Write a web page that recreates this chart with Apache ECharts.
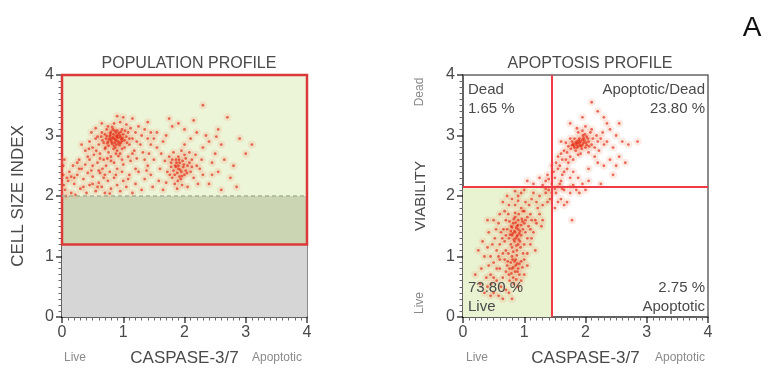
<!DOCTYPE html>
<html>
<head>
<meta charset="utf-8">
<script src="https://cdn.jsdelivr.net/npm/echarts@6/dist/echarts.min.js"></script>
<style>
  html, body { margin: 0; padding: 0; background: #fff; }
  #chart { width: 770px; height: 372px; }
</style>
</head>
<body>
<div id="chart"></div>
<script>
// ---- data ----
const axisTicks = [0, 1, 2, 3, 4];

// Population profile: CASPASE-3/7 vs cell size index
const populationEvents = [
  [0.85,2.95],[0.9,2.98],[0.8,2.92],[0.95,3.0],[0.88,3.05],[0.78,2.98],[0.92,2.9],[0.84,3.02],[0.97,2.94],[0.75,2.9],
  [0.82,2.86],[0.9,3.08],[1.0,3.02],[0.86,2.88],[0.72,2.95],[0.94,2.84],[0.8,3.06],[1.02,2.92],[0.87,2.8],[0.76,2.83],
  [0.98,3.1],[0.83,3.1],[0.91,2.96],[0.89,2.91],[0.79,3.01],[1.05,2.98],[0.7,3.02],[0.93,3.04],[0.85,2.83],[0.96,2.88],
  [0.81,2.95],[0.88,2.99],[1.08,3.05],[0.74,2.87],[0.99,2.96],
  [0.83,2.97],[0.87,2.93],[0.91,3.01],[0.77,2.94],[0.95,2.97],[0.86,3.08],[0.81,2.89],[0.93,2.87],[0.79,3.04],[0.89,2.85],
  [1.03,3.08],[0.73,2.99],[0.98,2.91],[0.84,2.78],[0.9,2.75],[0.68,2.88],[1.06,2.88],[0.96,3.06],[0.82,3.14],[0.71,2.8],
  [1.1,2.95],[0.64,2.98],[0.92,2.66],[0.8,2.58],[0.74,2.62],[1.0,2.52],[0.66,2.45],[0.56,2.75],[1.15,2.7],[1.2,2.45],
  [0.6,2.85],[0.55,2.95],[0.65,3.05],[0.5,2.8],[0.62,2.7],[0.45,2.9],[0.68,2.6],[0.58,2.55],[0.72,2.5],[0.8,2.65],
  [0.85,2.55],[0.95,2.7],[1.1,2.85],[1.15,2.95],[1.2,3.05],[1.12,3.12],[1.05,3.18],[0.95,3.22],[0.85,3.2],[0.75,3.15],
  [0.65,3.2],[1.25,3.15],[1.3,3.0],[1.35,3.1],[1.28,2.85],[1.4,2.95],[1.18,2.75],[1.08,2.65],[0.98,2.6],[0.9,2.45],
  [0.78,2.4],[0.7,2.35],[0.6,2.42],[0.5,2.5],[0.42,2.65],[0.38,2.75],[0.48,3.05],[0.55,3.12],[0.32,2.85],[0.28,2.6],
  [1.0,3.3],[0.9,3.32],[1.15,3.28],[1.4,3.22],[1.45,3.05],[0.7,2.78],[0.66,2.92],[1.02,2.8],[1.12,2.58],[1.22,2.62],
  [0.52,2.68],[0.73,3.1],[1.22,2.9],[0.58,2.98],[0.98,2.78],[1.32,2.72],[0.44,2.78],[0.88,2.7],[0.62,2.62],[0.76,2.72],
  [0.05,2.1],[0.1,2.25],[0.15,2.05],[0.2,2.2],[0.25,2.35],[0.3,2.12],[0.35,2.28],[0.4,2.05],[0.45,2.18],[0.5,2.32],
  [0.55,2.08],[0.6,2.22],[0.65,2.15],[0.7,2.05],[0.75,2.25],[0.8,2.12],[0.85,2.3],[0.9,2.18],[0.95,2.08],[1.0,2.25],
  [1.05,2.15],[1.1,2.35],[1.15,2.05],[1.2,2.2],[1.25,2.4],[0.12,2.4],[0.22,2.02],[0.32,2.45],[0.42,2.38],[0.08,2.3],
  [0.18,2.5],[0.28,2.45],[0.38,2.52],[0.48,2.42],[0.03,2.18],[0.15,2.32],[0.68,2.3],[0.58,2.15],[0.78,2.04],[0.98,2.4],
  [1.3,2.1],[1.35,2.28],[0.02,2.5],[0.04,2.6],[0.06,2.0],[0.02,2.35],
  [0.2,2.3],[0.35,2.15],[0.5,2.2],[0.62,2.38],[0.88,2.35],[1.08,2.28],[0.25,2.55],[0.45,2.6],
  [1.4,2.5],[1.45,2.35],[1.5,2.6],[1.55,2.8],[1.6,2.45],[1.48,2.15],[1.58,2.25],[1.65,2.9],[1.5,2.95],[1.42,2.7],
  [1.38,2.42],[1.62,2.7],[1.7,3.0],[1.55,3.05],[1.45,2.85],[1.35,2.6],
  [1.9,2.45],[1.85,2.5],[1.95,2.4],[1.88,2.38],[1.92,2.55],[1.82,2.42],[1.98,2.48],[1.86,2.6],[2.0,2.35],[1.8,2.3],
  [1.94,2.28],[2.05,2.5],[1.78,2.55],[1.9,2.65],[2.02,2.62],[1.84,2.2],[1.96,2.18],[2.1,2.4],[2.12,2.6],[1.72,2.4],
  [1.75,2.65],[2.08,2.72],[1.95,2.75],[1.82,2.72],[2.15,2.3],[2.2,2.5],[1.7,2.22],[2.05,2.15],[1.88,2.12],[2.18,2.68],
  [2.25,2.45],[1.68,2.58],[2.0,2.85],[2.22,2.2],[1.92,2.32],[1.86,2.48],[2.02,2.42],[1.78,2.48],[1.97,2.58],[2.3,2.35],
  [2.28,2.6],[1.65,2.1],
  [1.9,2.5],[1.93,2.43],[1.87,2.55],[1.99,2.52],[1.84,2.35],[1.91,2.6],[2.04,2.38],[1.8,2.6],[1.96,2.33],[2.08,2.55],
  [1.76,2.35],[2.12,2.48],[1.89,2.25],[2.0,2.68],
  [2.3,2.8],[2.4,2.9],[2.35,3.0],[2.45,2.55],[2.5,2.7],[2.55,2.4],[2.4,2.2],[2.6,2.85],[2.2,3.05],[2.1,2.95],
  [2.65,2.6],[2.7,3.3],[2.8,2.5],[2.75,2.3],[2.9,2.95],[3.0,2.7],[2.3,3.5],[1.9,3.2],[2.0,3.1],[1.8,3.15],
  [2.55,3.1],[2.6,2.1],[2.85,2.15],[2.45,2.35],[3.1,2.85],[2.15,3.25],[1.75,3.28],[2.52,2.98]
];

// Apoptosis profile: CASPASE-3/7 vs viability
const apoptosisEvents = [
  [0.85,1.4],[0.9,1.45],[0.8,1.35],[0.88,1.5],[0.82,1.55],[0.92,1.38],[0.78,1.42],[0.95,1.52],[0.86,1.3],[0.9,1.6],
  [0.75,1.3],[0.84,1.25],[0.98,1.45],[0.8,1.48],[0.93,1.25],[0.87,1.18],[0.72,1.45],[0.96,1.62],[0.83,1.62],[0.89,1.35],
  [0.78,1.2],[1.0,1.55],[0.91,1.7],[0.85,1.72],[0.76,1.58],[0.94,1.15],[0.7,1.35],[1.02,1.4],[0.88,1.1],[0.82,1.08],
  [0.84,1.42],[0.87,1.47],[0.81,1.38],[0.9,1.52],[0.86,1.56],[0.93,1.42],[0.79,1.5],[0.88,1.33],[0.95,1.35],[0.83,1.28],
  [0.91,1.28],[0.77,1.36],[0.85,1.65],[0.97,1.58],[0.8,1.15],[0.9,1.2],[1.02,1.6],[1.07,1.5],[0.7,1.1],[0.64,1.3],
  [1.12,1.6],[0.98,1.75],
  [0.8,0.8],[0.85,0.75],[0.78,0.9],[0.88,0.88],[0.75,0.7],[0.9,0.8],[0.82,0.65],[0.72,0.85],[0.86,0.95],[0.7,0.75],
  [0.92,0.7],[0.8,1.0],[0.76,0.6],[0.95,0.92],[0.68,0.95],[0.88,1.02],[0.74,1.05],[0.83,0.55],[0.65,0.65],[0.97,0.82],
  [0.82,0.82],[0.86,0.85],[0.79,0.72],[0.84,0.92],[0.89,0.75],[0.76,0.8],[0.81,0.95],[0.92,0.88],[0.73,0.92],[0.87,0.62],
  [0.4,0.5],[0.45,0.7],[0.5,0.4],[0.55,0.6],[0.6,0.8],[0.5,0.9],[0.45,1.0],[0.55,1.1],[0.6,1.2],[0.62,0.5],
  [0.58,0.35],[0.65,1.05],[0.68,1.25],[0.62,1.4],[0.58,1.55],[0.52,1.3],[0.48,1.2],[0.42,0.85],[0.38,0.65],[0.35,1.0],
  [0.4,1.15],[0.3,0.8],[0.7,1.6],[0.68,1.75],[0.75,1.85],[0.8,1.95],[0.85,1.85],[0.9,1.92],[0.95,1.8],[1.0,1.75],
  [1.05,1.65],[1.1,1.7],[1.08,1.85],[1.12,1.95],[1.15,2.05],[1.2,1.9],[1.25,2.0],[1.18,1.6],[1.1,1.45],[1.05,1.3],
  [1.0,1.2],[1.05,1.05],[1.0,0.95],[1.1,1.2],[1.15,1.4],[1.2,1.55],[1.25,1.7],[1.3,1.85],[1.35,2.05],[1.3,1.6],
  [1.38,1.9],[0.95,2.05],[1.0,2.1],[0.9,2.0],[0.65,0.3],[0.7,0.45],[0.75,0.4],[0.8,0.3],[0.9,0.5],[0.95,0.6],
  [1.0,0.7],[1.05,0.85],[0.55,0.8],[0.6,0.95],[0.5,0.65],[0.35,0.4],[0.28,0.55],[0.25,1.1],[0.32,1.25],[0.42,1.4],
  [0.5,1.6],[0.6,1.7],[0.65,1.9],[0.72,2.0],[1.12,1.3],[1.22,1.8],[0.98,1.05],[0.66,1.45],[0.74,1.7],[1.02,1.9],
  [0.58,1.0],[0.46,0.55],[0.54,1.45],[1.28,1.5],[1.18,1.1],[0.2,0.7],[0.4,1.6],[0.45,0.35],[0.85,2.08],
  [1.4,2.1],[1.45,2.2],[1.5,2.3],[1.55,2.15],[1.6,2.25],[1.48,2.4],[1.52,2.05],[1.58,2.5],[1.62,2.35],[1.65,2.1],
  [1.7,2.45],[1.68,2.6],[1.75,2.3],[1.72,2.55],[1.8,2.4],[1.55,2.65],[1.42,1.95],[1.35,2.25],[1.38,2.35],[1.3,2.18],
  [1.25,2.3],[1.6,1.95],[1.65,1.85],[1.75,2.05],[1.85,2.1],[1.9,2.05],[1.95,2.2],[2.0,2.1],[1.8,2.18],[1.7,1.9],
  [1.5,1.8],[1.78,1.6],[1.55,1.9],[1.45,2.5],[1.6,2.7],[1.15,2.2],[1.05,2.25],[1.62,2.12],[2.05,2.25],[1.88,2.3],
  [1.45,2.05],[1.5,2.12],[1.58,2.2],[1.4,2.28],[1.65,2.4],[1.52,2.55],[1.35,2.12],[1.75,2.15],
  [1.85,2.85],[1.9,2.88],[1.95,2.85],[1.88,2.82],[1.92,2.9],[1.8,2.86],[1.98,2.92],[1.86,2.9],[2.0,2.8],[1.82,2.8],
  [1.94,2.78],[2.05,2.9],[1.78,2.9],[1.9,2.95],[2.02,2.98],[1.84,2.75],[1.96,3.0],[2.1,2.85],[2.12,2.95],[1.72,2.82],
  [1.75,2.95],[2.08,3.05],[1.95,3.08],[1.88,3.05],[2.15,2.8],[2.2,2.9],[1.7,2.72],[2.05,2.72],[1.88,2.68],[2.18,3.0],
  [2.25,2.95],[1.68,2.88],[2.0,3.15],[2.22,2.75],[1.92,2.7],[1.82,2.95],[2.02,2.84],[1.76,2.78],[1.97,2.96],[1.86,3.12],
  [2.1,3.1],[1.8,2.6],[2.3,2.85],[2.28,3.05],[1.65,2.75],[1.6,2.9],[1.62,2.6],[1.75,2.65],[2.15,2.65],[2.35,2.9],
  [1.87,2.87],[1.91,2.84],[1.84,2.88],[1.97,2.88],[1.93,2.82],[1.89,2.92],[2.01,2.88],[1.81,2.83],[2.06,2.82],[1.95,2.93],
  [1.78,2.84],[2.04,2.95],[1.86,2.8],[1.99,3.02],
  [2.4,3.1],[2.5,3.0],[2.45,2.8],[2.55,2.65],[2.6,2.9],[2.7,2.85],[2.35,3.2],[2.3,3.3],[2.2,3.4],[2.1,3.55],
  [2.5,2.5],[2.65,2.55],[2.4,2.6],[2.3,2.5],[1.55,2.45],[1.75,3.2],[1.95,3.3],[2.55,3.2],[2.05,2.45],[2.2,2.55],
  [2.85,2.9],[2.45,2.35],[2.25,2.2]
];

// Gates
const sizeGateLow = 1.2;      // lower edge of the cell size gate
const sizeDebrisCut = 2.0;    // dashed debris threshold
const caspaseCut = 1.45;      // vertical quadrant divider
const viabilityCut = 2.15;    // horizontal quadrant divider

// Quadrant percentages
const quadrants = {
  dead: ['Dead', '1.65 %'],
  apoDead: ['Apoptotic/Dead', '23.80 %'],
  live: ['73.80 %', 'Live'],
  apo: ['2.75 %', 'Apoptotic']
};

// ---- chart ----
const FONT = '"Liberation Sans", Arial, sans-serif';
const TXT = '#4a4a4a';
const chart = echarts.init(document.getElementById('chart'));

// tick marks: named colours, dark grey major and mid grey minor
function tickStyle() { return { show: true, length: 6, lineStyle: { color: 'black', opacity: 0.75, width: 1.5 } }; }
function minorStyle() { return { show: true, splitNumber: 10, length: 3.5, lineStyle: { color: 'dimgray', width: 1 } }; }

function makeX(gridIndex) {
  return {
    gridIndex, type: 'value', min: 0, max: 4, interval: 1,
    name: 'CASPASE-3/7', nameLocation: 'middle', nameGap: 33,
    nameTextStyle: { fontFamily: FONT, fontSize: 17, color: TXT },
    axisLine: { show: true, lineStyle: { color: '#555', width: 1.5 } },
    axisTick: tickStyle(),
    minorTick: minorStyle(),
    splitLine: { show: false },
    axisLabel: { fontFamily: FONT, fontSize: 16, color: TXT }
  };
}
function makeY(gridIndex, name, nameSize) {
  return {
    gridIndex, type: 'value', min: 0, max: 4, interval: 1,
    name, nameLocation: 'middle', nameGap: 35,
    nameTextStyle: { fontFamily: FONT, fontSize: nameSize, color: TXT },
    axisLine: { show: true, lineStyle: { color: '#555', width: 1.5 } },
    axisTick: tickStyle(),
    minorTick: minorStyle(),
    splitLine: { show: false },
    axisLabel: { fontFamily: FONT, fontSize: 16, color: TXT }
  };
}

const haloStyle = { color: 'rgba(244,150,110,0.22)' };
const coreStyle = { color: 'rgba(225,35,15,0.8)' };

function quadText(x, y, lines, align) {
  return {
    type: 'text', x, y,
    style: { text: lines.join('\n'), font: '15px ' + FONT, fill: TXT, textAlign: align, lineHeight: 19 },
    z: 10
  };
}
function smallText(x, y, text, rotate) {
  return {
    type: 'text', x, y, rotation: rotate ? Math.PI / 2 : 0,
    style: { text, font: '12px ' + FONT, fill: '#8a8a8a', textAlign: 'center', textVerticalAlign: 'middle' },
    z: 10
  };
}

chart.setOption({
  animation: false,
  title: [
    { text: 'POPULATION PROFILE', left: 184, top: 51, textAlign: 'center',
      textStyle: { fontFamily: FONT, fontSize: 16, fontWeight: 'normal', color: TXT } },
    { text: 'APOPTOSIS PROFILE', left: 585, top: 51, textAlign: 'center',
      textStyle: { fontFamily: FONT, fontSize: 16, fontWeight: 'normal', color: TXT } }
  ],
  grid: [
    { left: 62, top: 75, width: 245, height: 242, show: true, borderColor: '#666', borderWidth: 1.5 },
    { left: 463, top: 75, width: 245, height: 242, show: true, borderColor: '#666', borderWidth: 1.5 }
  ],
  xAxis: [makeX(0), makeX(1)],
  yAxis: [makeY(0, 'CELL SIZE INDEX', 17), makeY(1, 'VIABILITY', 15)],
  series: [
    {
      name: 'population-halo', type: 'scatter', xAxisIndex: 0, yAxisIndex: 0,
      data: populationEvents, symbolSize: 8, itemStyle: haloStyle, silent: true,
      markArea: {
        silent: true,
        data: [
          [{ coord: [0, 0], itemStyle: { color: '#d6d6d6' } }, { coord: [4, sizeGateLow] }],
          [{ coord: [0, sizeGateLow], itemStyle: { color: '#cbd5b4' } }, { coord: [4, sizeDebrisCut] }],
          [{ coord: [0, sizeDebrisCut], itemStyle: { color: '#edf5d9' } }, { coord: [4, 4] }]
        ]
      },
      markLine: {
        silent: true, symbol: 'none', label: { show: false },
        lineStyle: { color: '#a8b295', type: [4, 3], width: 1.5 },
        data: [{ yAxis: sizeDebrisCut }]
      }
    },
    {
      name: 'population', type: 'scatter', xAxisIndex: 0, yAxisIndex: 0,
      data: populationEvents, symbolSize: 2.8, itemStyle: coreStyle, silent: true,
      markArea: {
        silent: true,
        data: [
          [{ coord: [0, sizeGateLow], itemStyle: { color: 'rgba(0,0,0,0)', borderColor: '#dc3a3a', borderWidth: 2.5 } }, { coord: [4, 4] }]
        ]
      }
    },
    {
      name: 'apoptosis-halo', type: 'scatter', xAxisIndex: 1, yAxisIndex: 1,
      data: apoptosisEvents, symbolSize: 8, itemStyle: haloStyle, silent: true,
      markArea: {
        silent: true,
        data: [
          [{ coord: [0, 0], itemStyle: { color: '#e9f3d2' } }, { coord: [caspaseCut, viabilityCut] }]
        ]
      }
    },
    {
      name: 'apoptosis', type: 'scatter', xAxisIndex: 1, yAxisIndex: 1,
      data: apoptosisEvents, symbolSize: 2.8, itemStyle: coreStyle, silent: true,
      markLine: {
        silent: true, symbol: 'none', label: { show: false },
        lineStyle: { color: '#ee3b45', type: 'solid', width: 2 },
        data: [{ xAxis: caspaseCut }, { yAxis: viabilityCut }]
      }
    }
  ],
  graphic: [
    quadText(468, 80, quadrants.dead, 'left'),
    quadText(705, 80, quadrants.apoDead, 'right'),
    quadText(468, 278, quadrants.live, 'left'),
    quadText(705, 278, quadrants.apo, 'right'),
    smallText(75, 358, 'Live'),
    smallText(277, 358, 'Apoptotic'),
    smallText(477, 358, 'Live'),
    smallText(680, 358, 'Apoptotic'),
    smallText(420, 92, 'Dead', true),
    smallText(420, 303, 'Live', true),
    { type: 'text', x: 752, y: 28,
      style: { text: 'A', font: '28px ' + FONT, fill: '#111', textAlign: 'center', textVerticalAlign: 'middle' } }
  ]
});
</script>
</body>
</html>
